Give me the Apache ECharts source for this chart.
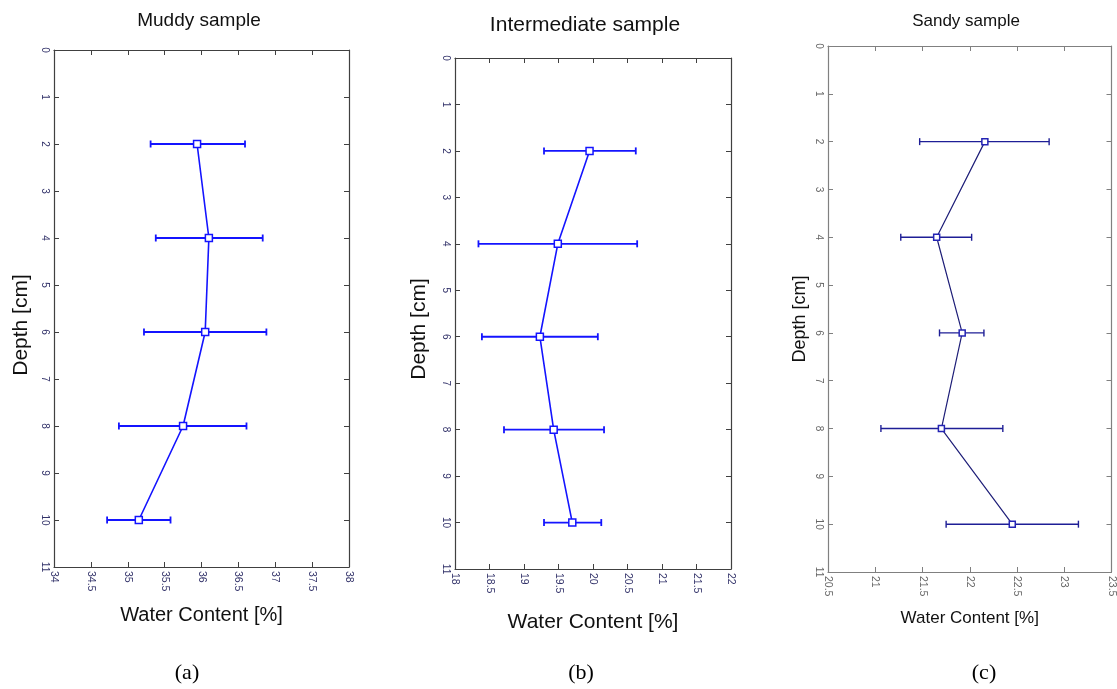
<!DOCTYPE html>
<html>
<head>
<meta charset="utf-8">
<script src="https://cdn.jsdelivr.net/npm/echarts@6/dist/echarts.min.js"></script>
<style>html,body{margin:0;padding:0;background:#fff;}#main{width:1117px;height:689px;}</style>
</head>
<body>
<div id="main"></div>
<script>
// ---- data ----
var depths = [2, 4, 6, 8, 10];
var muddyMean = [35.94, 36.10, 36.05, 35.75, 35.15];
var muddyLow  = [35.31, 35.38, 35.22, 34.88, 34.72];
var muddyHigh = [36.59, 36.83, 36.88, 36.61, 35.58];
var interMean = [19.95, 19.49, 19.23, 19.43, 19.70];
var interLow  = [19.29, 18.34, 18.39, 18.71, 19.29];
var interHigh = [20.62, 20.64, 20.07, 20.16, 20.12];
var sandyMean = [22.16, 21.65, 21.92, 21.70, 22.45];
var sandyLow  = [21.47, 21.27, 21.68, 21.06, 21.75];
var sandyHigh = [22.84, 22.02, 22.15, 22.35, 23.15];
var titles = ['Muddy sample', 'Intermediate sample', 'Sandy sample'];
var panelLetters = ['(a)', '(b)', '(c)'];
var xRanges = [[34, 38], [18, 22], [20.5, 23.5]];
var depthRange = [0, 11];
var xName = 'Water Content [%]';
var yName = 'Depth [cm]';

var panels = [
  {mean: muddyMean, low: muddyLow, high: muddyHigh},
  {mean: interMean, low: interLow, high: interHigh},
  {mean: sandyMean, low: sandyLow, high: sandyHigh}
];

// ---- layout / style ----
var grids = [
  {left: 54, top: 50, width: 295, height: 517},
  {left: 455, top: 58, width: 276, height: 511},
  {left: 828, top: 46, width: 284, height: 526}
];
var styles = [
  {line: '#1414ff', marker: '#1414ff', bar: '#1414ff', axis: '#404040', label: '#33336a', titleSize: 19, titleX: 199, titleTop: 11, nameSize: 20, xNameGap: 38, yNameSize: 21, yNameX: 21, yNameY: 325, sym: 7},
  {line: '#1414ff', marker: '#1414ff', bar: '#1414ff', axis: '#404040', label: '#33336a', titleSize: 21, titleX: 585, titleTop: 15, nameSize: 21, xNameGap: 43, yNameSize: 21, yNameX: 419, yNameY: 329, sym: 7},
  {line: '#1e1e78', marker: '#2424b4', bar: '#1e1e96', axis: '#808080', label: '#666666', titleSize: 17, titleX: 966, titleTop: 13, nameSize: 17, xNameGap: 38, yNameSize: 18, yNameX: 800, yNameY: 319, sym: 6}
];

var option = {
  backgroundColor: '#ffffff',
  animation: false,
  title: [], grid: [], xAxis: [], yAxis: [], series: [], graphic: []
};

var letterX = [187, 581, 984];

panels.forEach(function (p, i) {
  var s = styles[i], g = grids[i];
  option.grid.push({left: g.left, top: g.top, width: g.width, height: g.height, containLabel: false});
  option.title.push({
    text: titles[i], left: s.titleX, top: s.titleTop, textAlign: 'center', padding: 0,
    textStyle: {fontFamily: 'Liberation Sans', fontWeight: 'normal', fontSize: s.titleSize, color: '#111'}
  });
  var xi = option.xAxis.length, yi = option.yAxis.length;
  var tickCommon = {show: true, inside: true, length: 5, lineStyle: {color: s.axis, width: 1}};
  // bottom x axis
  option.xAxis.push({
    type: 'value', gridIndex: i, position: 'bottom', min: xRanges[i][0], max: xRanges[i][1], interval: 0.5,
    name: xName, nameLocation: 'middle', nameGap: s.xNameGap,
    nameTextStyle: {fontFamily: 'Liberation Sans', fontSize: s.nameSize, color: '#111'},
    axisLine: {show: true, onZero: false, lineStyle: {color: s.axis, width: 1.2}},
    axisTick: tickCommon,
    axisLabel: {rotate: -90, fontSize: 10.5, color: s.label, fontFamily: 'Liberation Sans', margin: 4, showMinLabel: true, showMaxLabel: true},
    splitLine: {show: false}
  });
  // top x axis (frame + ticks)
  option.xAxis.push({
    type: 'value', gridIndex: i, position: 'top', min: xRanges[i][0], max: xRanges[i][1], interval: 0.5,
    axisLine: {show: true, onZero: false, lineStyle: {color: s.axis, width: 1.2}},
    axisTick: tickCommon, axisLabel: {show: false}, splitLine: {show: false}
  });
  // left y axis
  option.yAxis.push({
    type: 'value', gridIndex: i, position: 'left', inverse: true, min: depthRange[0], max: depthRange[1], interval: 1,
    axisLine: {show: true, onZero: false, lineStyle: {color: s.axis, width: 1.2}},
    axisTick: tickCommon,
    axisLabel: {rotate: -90, fontSize: 10, color: s.label, fontFamily: 'Liberation Sans', margin: 4},
    splitLine: {show: false}
  });
  // right y axis
  option.yAxis.push({
    type: 'value', gridIndex: i, position: 'right', inverse: true, min: depthRange[0], max: depthRange[1], interval: 1,
    axisLine: {show: true, onZero: false, lineStyle: {color: s.axis, width: 1.2}},
    axisTick: tickCommon, axisLabel: {show: false}, splitLine: {show: false}
  });

  var lineData = depths.map(function (d, k) { return [p.mean[k], d]; });
  var errData = depths.map(function (d, k) { return [d, p.low[k], p.high[k]]; });

  option.series.push({
    type: 'custom', xAxisIndex: xi, yAxisIndex: yi, data: errData, z: 2,
    encode: {x: [1, 2], y: 0},
    renderItem: function (params, api) {
      var d = api.value(0);
      var a = api.coord([api.value(1), d]);
      var b = api.coord([api.value(2), d]);
      var h = 3.5;
      var st = {stroke: s.bar, lineWidth: i === 2 ? 1.4 : 1.8};
      return {type: 'group', children: [
        {type: 'line', shape: {x1: a[0], y1: a[1], x2: b[0], y2: b[1]}, style: st},
        {type: 'line', shape: {x1: a[0], y1: a[1] - h, x2: a[0], y2: a[1] + h}, style: st},
        {type: 'line', shape: {x1: b[0], y1: b[1] - h, x2: b[0], y2: b[1] + h}, style: st}
      ]};
    }
  });
  option.series.push({
    type: 'line', xAxisIndex: xi, yAxisIndex: yi, data: lineData, z: 3,
    symbol: 'rect', symbolSize: s.sym, showSymbol: true,
    lineStyle: {color: s.line, width: i === 2 ? 1.2 : 1.6},
    itemStyle: {color: '#ffffff', borderColor: s.marker, borderWidth: 1.5}
  });

  // y-axis name (rotated)
  option.graphic.push({
    type: 'text', x: s.yNameX, y: s.yNameY, rotation: Math.PI / 2,
    style: {text: yName, font: s.yNameSize + 'px "Liberation Sans"', fill: '#111', align: 'center', verticalAlign: 'middle'}
  });
  // panel letter
  option.graphic.push({
    type: 'text', x: letterX[i], y: 673,
    style: {text: panelLetters[i], font: '22px "Liberation Serif"', fill: '#000', align: 'center', verticalAlign: 'middle'}
  });
});

var chart = echarts.init(document.getElementById('main'), null, {renderer: 'canvas'});
chart.setOption(option);
</script>
</body>
</html>
